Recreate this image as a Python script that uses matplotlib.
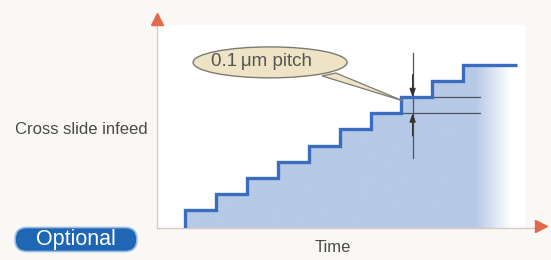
import numpy as np
import matplotlib
matplotlib.use("Agg")
import matplotlib.pyplot as plt
from matplotlib.patches import Ellipse, Polygon, Rectangle, FancyBboxPatch

# ---- data ----
rise_times = [1, 2, 3, 4, 5, 6, 7, 8, 9, 10]
step_levels = [1, 2, 3, 4, 5, 6, 7, 8, 9, 10]
end_time = 11.73
pitch_levels = [7, 8]          # the two levels marked with the 0.1 um pitch
label_pitch = "0.1\u2009\u03bcm pitch"
label_y = "Cross slide infeed"
label_x = "Time"
label_badge = "Optional"

W, H = 551, 260
fig = plt.figure(figsize=(W / 100, H / 100), dpi=100)
fig.patch.set_facecolor("#faf8f5")

# overlay in pixel coordinates for the badge and labels
ov = fig.add_axes([0, 0, 1, 1])
ov.set_xlim(0, W)
ov.set_ylim(H, 0)
ov.axis("off")
ov.add_patch(FancyBboxPatch((15, 227.5), 122, 24, boxstyle="round,pad=0,rounding_size=12",
                            facecolor="#1f66b5", edgecolor="#9dbbe0", lw=1.2))
ov.text(76, 240, label_badge, ha="center", va="center", fontsize=15.5,
        color="white", family="Liberation Sans")
ov.text(81, 130, label_y, ha="center", va="center", fontsize=12,
        color="#4a4a4a", family="Liberation Sans")
ov.text(333, 248, label_x, ha="center", va="center", fontsize=12,
        color="#4a4a4a", family="Liberation Sans")

ax = fig.add_axes([157 / W, 1 - 228 / H, (549 - 157) / W, 218 / H])
x0, x1 = 0.0945, 12.77
y0, y1 = -0.117, 13.41
ax.axis("off")

# plot-area white background
ax.add_patch(Rectangle((x0, y0), 12.0 - x0, 12.48 - y0, facecolor="white",
                       edgecolor="none", zorder=0))

# step vertices
xs = [rise_times[0]]
ys = [y0]
for t, lv in zip(rise_times, step_levels):
    xs += [t]
    ys += [lv]
    xs += [t + 1 if t != rise_times[-1] else end_time]
    ys += [lv]
xs_line = xs
ys_line = ys

# gradient fill under the staircase
fill_rgb = np.array([182, 201, 230]) / 255
tt = np.linspace(rise_times[0], end_time, 400)
alpha = np.clip((11.55 - tt) / (11.55 - 10.4), 0, 1)
img = np.zeros((1, len(tt), 4))
img[..., :3] = fill_rgb
img[..., 3] = alpha
poly = Polygon(list(zip(xs_line, ys_line)) + [(end_time, y0)], closed=True,
               facecolor="none", edgecolor="none")
ax.add_patch(poly)
im = ax.imshow(img, extent=(rise_times[0], end_time, y0, step_levels[-1]),
               aspect="auto", interpolation="bilinear", zorder=1)
im.set_clip_path(poly)

# staircase line
ax.plot(xs_line, ys_line, color="#3a6cbf", lw=2.4, solid_joinstyle="miter",
        solid_capstyle="butt", zorder=4)

# pitch annotation lines
xl_end = 10.54
x_mark = 8.36
for lv in pitch_levels:
    ax.plot([8, xl_end], [lv, lv], color="#4a5566", lw=0.9, zorder=3)
ax.plot([x_mark, x_mark], [10.75, 4.23], color="#4a5566", lw=0.9, zorder=3)
ax.annotate("", xy=(x_mark, pitch_levels[1]), xytext=(x_mark, 9.4),
            arrowprops=dict(arrowstyle="-|>,head_length=0.5,head_width=0.18",
                            color="#333333", lw=0.9, shrinkA=0, shrinkB=0),
            zorder=5)
ax.annotate("", xy=(x_mark, pitch_levels[0]), xytext=(x_mark, 5.6),
            arrowprops=dict(arrowstyle="-|>,head_length=0.5,head_width=0.18",
                            color="#333333", lw=0.9, shrinkA=0, shrinkB=0),
            zorder=5)

# callout bubble
bubble_fc = "#efe3c6"
bubble_ec = "#7c7a72"
tail = Polygon([(5.43, 9.32), (5.88, 9.5), (8.05, 7.77)], closed=True,
               facecolor=bubble_fc, edgecolor=bubble_ec, lw=0.9, zorder=6)
ax.add_patch(tail)
ax.add_patch(Ellipse((3.75, 10.16), 4.98, 1.92, facecolor=bubble_fc,
                     edgecolor=bubble_ec, lw=1.0, zorder=7))
ax.text(3.47, 10.2, label_pitch, ha="center", va="center", fontsize=13.5,
        color="#555555", family=["Liberation Sans", "DejaVu Sans"], zorder=8)

# axes lines with arrowheads
axis_col = "#d9c9c2"
arrow_col = "#e2694a"
ax.plot([x0, x0], [y0, 13.0], color=axis_col, lw=1.0, clip_on=False, zorder=2)
ax.plot([x0, 12.4], [y0, y0], color=axis_col, lw=1.0, clip_on=False, zorder=2)
ax.plot([x0], [12.85], marker="^", ms=8, color=arrow_col, clip_on=False, zorder=5)
ax.plot([12.5], [y0 + 0.15], marker=">", ms=8, color=arrow_col, clip_on=False, zorder=5)

ax.set_xlim(x0, x1)
ax.set_ylim(y0, y1)

fig.savefig("out.png", dpi=100, facecolor=fig.get_facecolor())
